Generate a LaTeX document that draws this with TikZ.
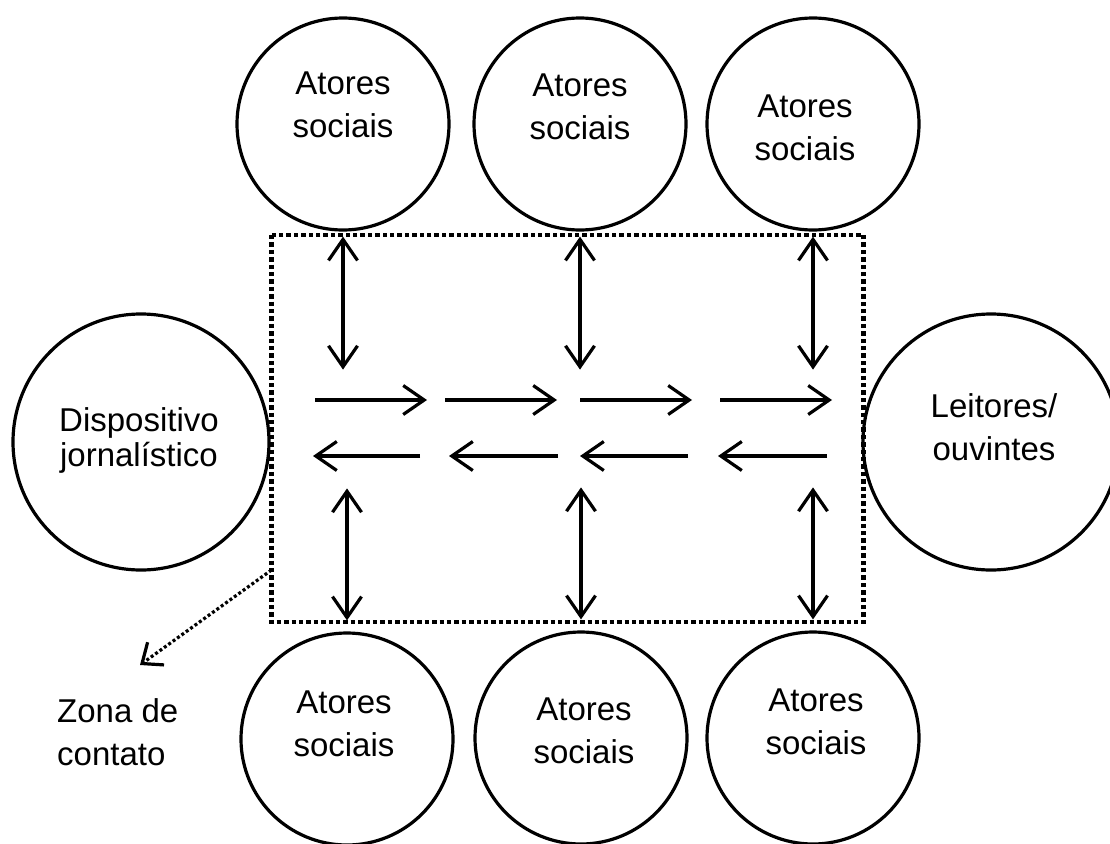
\documentclass[tikz,border=0pt]{standalone}
\usepackage{fontspec}
\setmainfont{Liberation Sans}
\usetikzlibrary{calc, positioning}
\usetikzlibrary{arrows.meta}

\tikzset{
  actor/.style={circle, draw, line width=3.2pt, minimum size=212pt, inner sep=0pt},
  bigactor/.style={actor, minimum size=256pt},
  lbl/.style={align=center, inner sep=0pt, font=\fontsize{33}{43}\selectfont},
  flow/.style={line width=3.2pt},
  zone/.style={line width=4.6pt, dash pattern=on 4.4pt off 3pt},
  pointer/.style={line width=3.2pt, dash pattern=on 3pt off 2.4pt,
    -{Straight Barb[length=17pt, width=28pt]}},
}

\begin{document}
\begin{tikzpicture}[x=1pt, y=-1pt, >={Straight Barb[length=21pt, width=29pt]}]
\useasboundingbox (0,0) rectangle (1110,843);

% atores sociais, above and below
\node[actor] (t1) at (343,124) {};
\node[actor] (t2) at (580,124) {};
\node[actor] (t3) at (813,124) {};
\node[actor] (b1) at (347,739) {};
\node[actor] (b2) at (581,738) {};
\node[actor] (b3) at (813,738) {};

\node[lbl] (t1l) at (343,105) {Atores\\sociais};
\node[lbl] (t2l) at (580,107) {Atores\\sociais};
\node[lbl] (t3l) at (805,128) {Atores\\sociais};
\node[lbl] (b1l) at (344,724) {Atores\\sociais};
\node[lbl] (b2l) at (584,731) {Atores\\sociais};
\node[lbl] (b3l) at (816,722) {Atores\\sociais};

% both ends of the chain
\node[bigactor] (disp) at (141,442) {};
\node[bigactor] (leit) at (991,442) {};
\node[lbl, font=\fontsize{33}{35}\selectfont] (displ) at (139,440) {Dispositivo\\jornalístico};
\node[lbl] (leitl) at (994,427) {Leitores/\\ouvintes};

% zona de contato
\coordinate (znw) at (271.5,235);
\coordinate (zse) at (863.5,622);
\draw[zone] (znw) rectangle (zse);
\coordinate (zp) at ([yshift=52pt]znw |- zse);
\coordinate (zt) at (140,665);
\draw[pointer] (zp) -- (zt);
\node[lbl, align=left, anchor=west] (zl) at (57,732) {Zona de\\contato};

% exchanges with the actors
\draw[flow, <->] ([yshift=-5pt]t1.south) -- ++(0,133);
\draw[flow, <->] ([yshift=-5pt]t2.south) -- ++(0,133);
\draw[flow, <->] ([yshift=-5pt]t3.south) -- ++(0,133);
\draw[flow, <->] ([yshift=11pt]b1.north) -- ++(0,-132);
\draw[flow, <->] ([yshift=11pt]b2.north) -- ++(0,-132);
\draw[flow, <->] ([yshift=11pt]b3.north) -- ++(0,-132);

% flows between dispositivo and leitores
\draw[flow, ->] (315,400) -- (427,400);
\draw[flow, ->] (445,400) -- (557,400);
\draw[flow, ->] (580,400) -- (692,400);
\draw[flow, ->] (720,400) -- (832,400);
\draw[flow, ->] (420,456) -- (313,456);
\draw[flow, ->] (558,456) -- (449,456);
\draw[flow, ->] (688,456) -- (580,456);
\draw[flow, ->] (827,456) -- (718,456);
\end{tikzpicture}
\end{document}
